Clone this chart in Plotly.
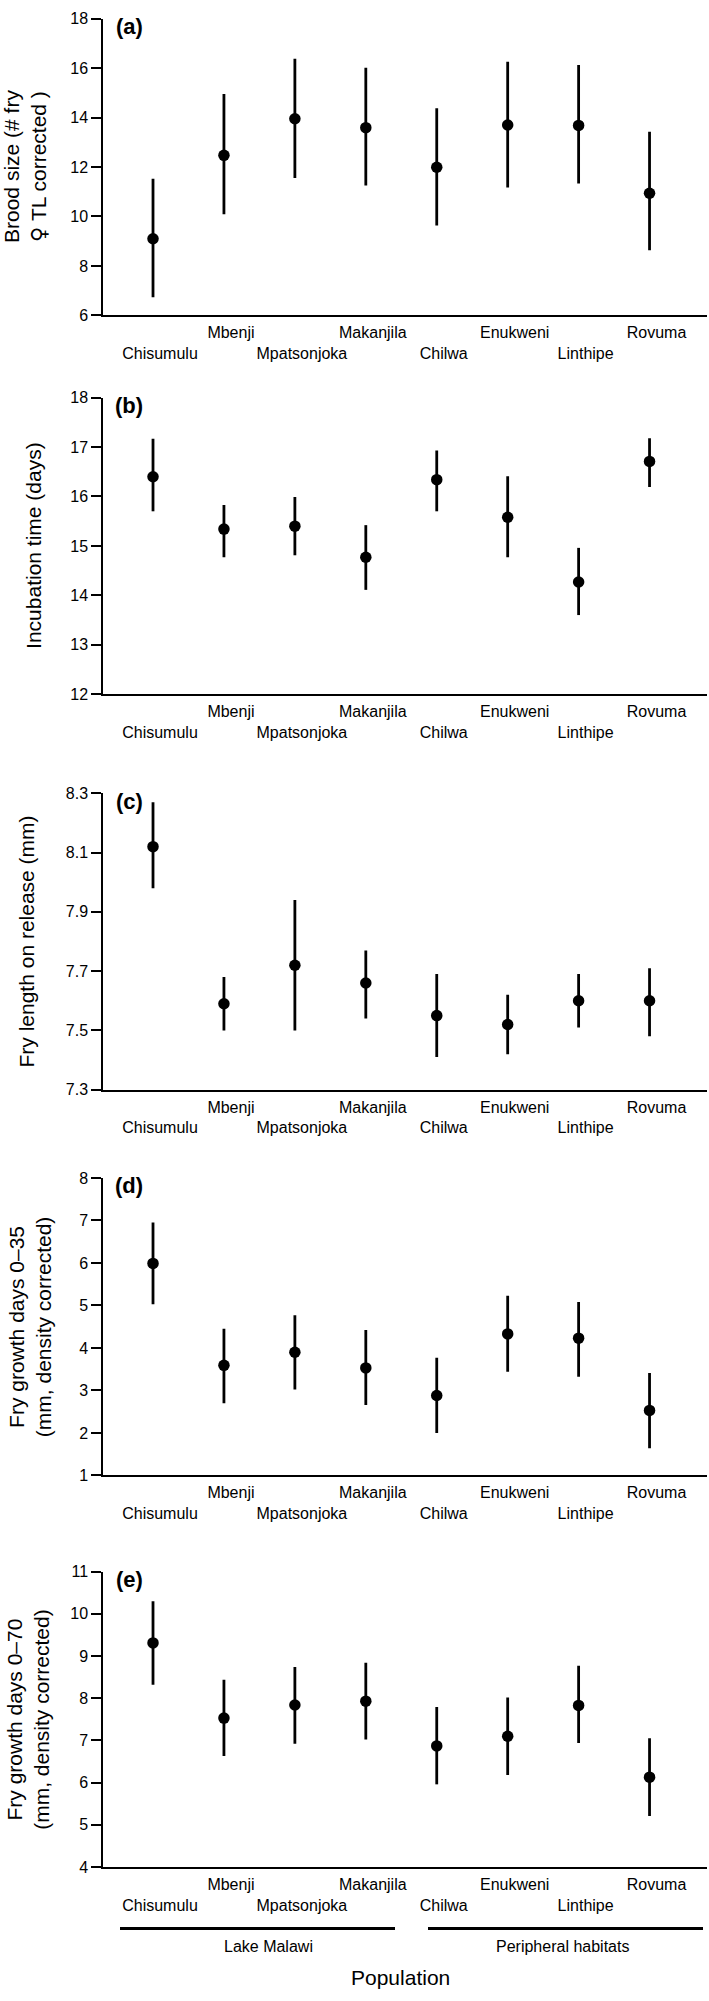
import plotly.graph_objects as go

populations = ["Chisumulu", "Mbenji", "Mpatsonjoka", "Makanjila",
               "Chilwa", "Enukweni", "Linthipe", "Rovuma"]
label_row = [2, 1, 2, 1, 2, 1, 2, 1]  # staggered tick label rows

# (a) Brood size
a_mean = [9.10, 12.47, 13.95, 13.59, 11.99, 13.70, 13.68, 10.94]
a_hi   = [11.52, 14.95, 16.38, 16.01, 14.38, 16.26, 16.12, 13.42]
a_lo   = [6.73, 10.09, 11.55, 11.25, 9.63, 11.17, 11.33, 8.63]
# (b) Incubation time
b_mean = [16.40, 15.34, 15.40, 14.77, 16.34, 15.58, 14.27, 16.71]
b_hi   = [17.17, 15.83, 15.99, 15.42, 16.93, 16.41, 14.96, 17.18]
b_lo   = [15.70, 14.77, 14.81, 14.11, 15.70, 14.77, 13.60, 16.19]
# (c) Fry length on release
c_mean = [8.12, 7.59, 7.72, 7.66, 7.55, 7.52, 7.60, 7.60]
c_hi   = [8.27, 7.68, 7.94, 7.77, 7.69, 7.62, 7.69, 7.71]
c_lo   = [7.98, 7.50, 7.50, 7.54, 7.41, 7.42, 7.51, 7.48]
# (d) Fry growth days 0-35
d_mean = [5.99, 3.59, 3.90, 3.53, 2.88, 4.33, 4.23, 2.53]
d_hi   = [6.95, 4.45, 4.77, 4.42, 3.77, 5.23, 5.08, 3.41]
d_lo   = [5.03, 2.70, 3.02, 2.66, 2.00, 3.44, 3.32, 1.64]
# (e) Fry growth days 0-70
e_mean = [9.31, 7.53, 7.84, 7.93, 6.87, 7.10, 7.83, 6.13]
e_hi   = [10.30, 8.44, 8.74, 8.84, 7.79, 8.02, 8.77, 7.05]
e_lo   = [8.32, 6.63, 6.92, 7.02, 5.96, 6.18, 6.94, 5.21]

panel_letters = ["(a)", "(b)", "(c)", "(d)", "(e)"]
y_titles = ["Brood size (# fry<br><span style=\"font-family:'DejaVu Sans'\">♀</span> TL corrected )",
            "Incubation time (days)",
            "Fry length on release (mm)",
            "Fry growth days 0–35<br>(mm, density corrected)",
            "Fry growth days 0–70<br>(mm, density corrected)"]
y_ranges = [[6, 18], [12, 18], [7.3, 8.3], [1, 8], [4, 11]]
y_dticks = [2, 1, 0.2, 1, 1]
groups = ["Lake Malawi", "Peripheral habitats"]
x_title = "Population"

panels = [(a_mean, a_hi, a_lo), (b_mean, b_hi, b_lo), (c_mean, c_hi, c_lo),
          (d_mean, d_hi, d_lo), (e_mean, e_hi, e_lo)]

W, H = 709, 2001
# plot-area pixel extents (top, bottom) for each panel
panel_px = [(10.7, 310), (393, 692), (792, 1091), (1180, 1480), (1577, 1875)]
title_x_px = [26, 34, 27, 29.5, 28.5]
x_left, x_right = 103, 707

FONT = "Liberation Sans, Arial, Helvetica, sans-serif"

tick_text = [("\u00a0<br>" + p) if r == 2 else p for p, r in zip(populations, label_row)]

fig = go.Figure()
annotations = []
for i, (mean, hi, lo) in enumerate(panels):
    n = i + 1
    xa = "x" if n == 1 else f"x{n}"
    ya = "y" if n == 1 else f"y{n}"
    fig.add_trace(go.Scatter(
        x=populations, y=mean, mode="markers",
        marker=dict(color="black", size=11.5),
        error_y=dict(type="data", symmetric=False,
                     array=[h - m for h, m in zip(hi, mean)],
                     arrayminus=[m - l for m, l in zip(mean, lo)],
                     color="black", thickness=2.8, width=0),
        xaxis=xa, yaxis=ya, showlegend=False, hoverinfo="skip"))
    top, bot = panel_px[i]
    dom = [1 - bot / H, 1 - top / H]
    xkey = "xaxis" if n == 1 else f"xaxis{n}"
    ykey = "yaxis" if n == 1 else f"yaxis{n}"
    fig.update_layout(**{
        xkey: dict(domain=[x_left / W, x_right / W], anchor=ya,
                   type="category", categoryorder="array", categoryarray=populations,
                   range=[-0.705, 7.81], showline=True, linecolor="black", linewidth=1.5,
                   ticks="", showgrid=False, zeroline=False,
                   tickmode="array", tickvals=populations, ticktext=tick_text,
                   tickangle=0, tickfont=dict(family=FONT, size=16, color="black"),
                   ticklabelstandoff=2, ticklabelshift=7),
        ykey: dict(domain=dom, anchor=xa, range=y_ranges[i], dtick=y_dticks[i],
                   tick0=y_ranges[i][0],
                   showline=True, linecolor="black", linewidth=1.5,
                   ticks="outside", ticklen=10, tickwidth=1.5, tickcolor="black",
                   showgrid=False, zeroline=False,
                   tickfont=dict(family=FONT, size=16, color="black")),
    })
    annotations.append(dict(text=f"<b>{panel_letters[i]}</b>", xref="paper", yref="paper",
                            x=129 / W, y=1 - (top + 8) / H, showarrow=False,
                            xanchor="center", yanchor="middle",
                            font=dict(family=FONT, size=22, color="black")))
    annotations.append(dict(text=y_titles[i], xref="paper", yref="paper",
                            x=title_x_px[i] / W, y=1 - (top + bot) / 2 / H,
                            showarrow=False, textangle=-90,
                            xanchor="center", yanchor="middle",
                            font=dict(family=FONT, size=21, color="black")))

# group labels and x title
annotations.append(dict(text=groups[0], xref="paper", yref="paper", x=268 / W, y=1 - 1955 / H,
                        showarrow=False, xanchor="center", yanchor="middle",
                        font=dict(family=FONT, size=16, color="black")))
annotations.append(dict(text=groups[1], xref="paper", yref="paper", x=562 / W, y=1 - 1955 / H,
                        showarrow=False, xanchor="center", yanchor="middle",
                        font=dict(family=FONT, size=16, color="black")))
annotations.append(dict(text=x_title, xref="paper", yref="paper", x=400 / W, y=1 - 1986 / H,
                        showarrow=False, xanchor="center", yanchor="middle",
                        font=dict(family=FONT, size=21, color="black")))

shapes = [
    dict(type="line", xref="paper", yref="paper", x0=120 / W, x1=395 / W,
         y0=1 - 1937 / H, y1=1 - 1937 / H, line=dict(color="black", width=3)),
    dict(type="line", xref="paper", yref="paper", x0=428 / W, x1=703 / W,
         y0=1 - 1937 / H, y1=1 - 1937 / H, line=dict(color="black", width=3)),
]

fig.update_layout(width=W, height=H, margin=dict(l=0, r=0, t=0, b=0),
                  paper_bgcolor="white", plot_bgcolor="white",
                  annotations=annotations, shapes=shapes,
                  font=dict(family=FONT, color="black"))

fig.write_html("out.html", post_script="document.body.style.margin='0';",
               config={"displayModeBar": False})
